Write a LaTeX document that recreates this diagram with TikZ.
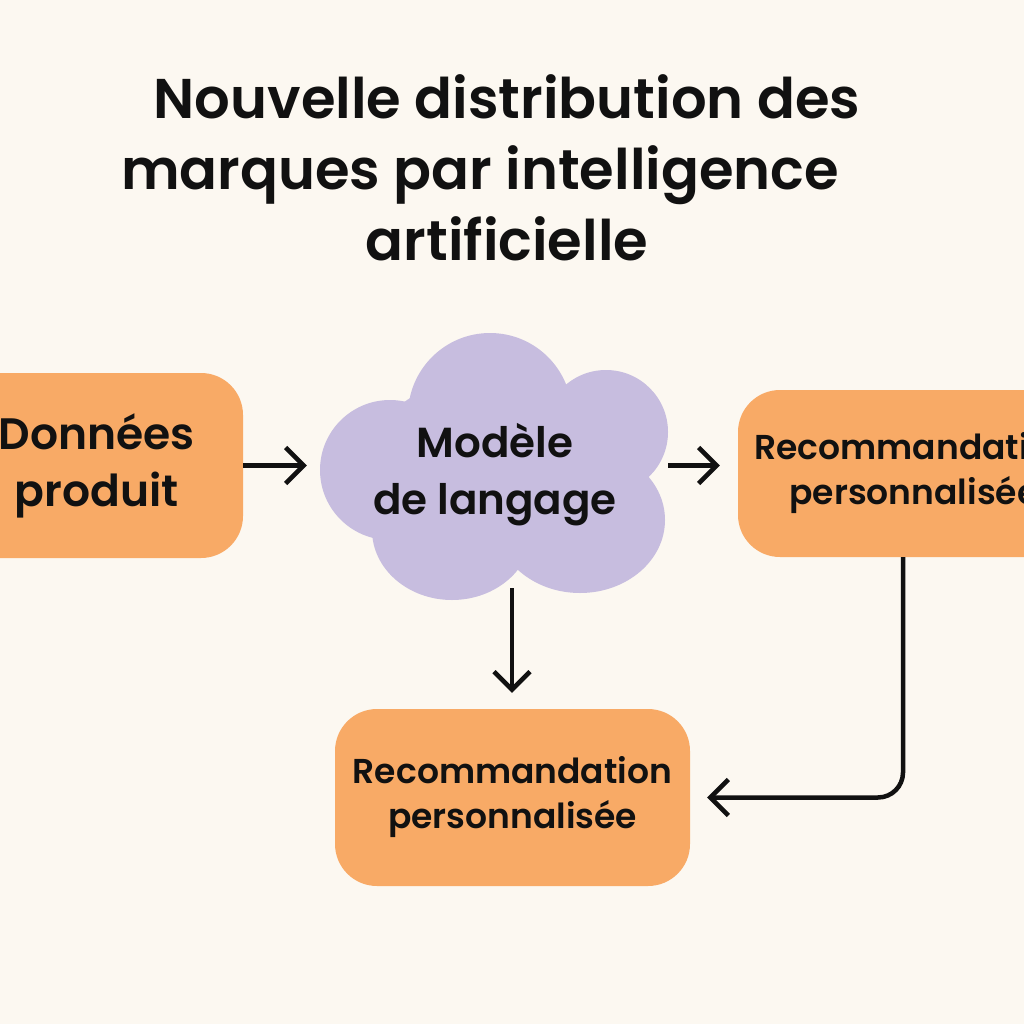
\documentclass[tikz,border=0pt]{standalone}
\usepackage{fontspec}
\setmainfont{Poppins SemiBold}
\usetikzlibrary{arrows.meta}
\definecolor{bgcream}{HTML}{FCF8F1}
\definecolor{boxorange}{HTML}{F8AA66}
\definecolor{cloudlilac}{HTML}{C7BDDF}
\definecolor{inkblack}{HTML}{111111}

\begin{document}
\begin{tikzpicture}[x=1pt,y=-1pt]
            \tikzset{block/.style = {shape=rectangle, rounded corners=42pt, fill=boxorange, text=inkblack, align=center, inner sep=0pt}}
            \tikzset{flow/.style = {draw=inkblack, line width=4.5pt, -{Straight Barb[length=18pt,width=36pt]}, shorten >=15pt}}
            \fill[bgcream] (0,0) rectangle (1024,1024);
            \useasboundingbox (0,0) rectangle (1024,1024);
            % title
            \node[text=inkblack, align=center, font=\fontsize{56}{71}\selectfont] (title) at (507,168)
                {Nouvelle distribution des\\\mbox{marques par intelligence\hspace{54pt}}\\artificielle};
            % cloud
            \fill[cloudlilac] (490,415) circle (82);
            \fill[cloudlilac] (606,432) circle (62);
            \fill[cloudlilac] (390,470) circle (70);
            \fill[cloudlilac] (452,530) ellipse (80 and 70);
            \fill[cloudlilac] (580,520) ellipse (85 and 73);
            \fill[cloudlilac] (495,470) ellipse (130 and 95);
            % vertices
            \node[block, minimum width=293pt, minimum height=185pt, font=\fontsize{44}{57}\selectfont] (data) at (96.5,465.5) {Données\\produit};
            \node[shape=rectangle, minimum width=346pt, minimum height=264pt, inner sep=0pt, text=inkblack, align=center, font=\fontsize{42}{57}\selectfont] (model) at (495,475) {Modèle\\de langage};
            \node[block, minimum width=352pt, minimum height=167pt, font=\fontsize{34.5}{45}\selectfont] (reco) at (914,473.5) {Recommandation\\personnalisée};
            \node[block, minimum width=355pt, minimum height=177pt, font=\fontsize{34.5}{45}\selectfont] (final) at (512.5,797.5) {Recommandation\\personnalisée};
            \coordinate (modelfoot) at (512,588);
            \coordinate (recofoot) at (903,557);
            % edges
            \draw[flow] (data.east) -- (model.west |- data.east);
            \draw[flow, shorten >=18pt] (model.east |- data.east) -- (reco.west |- data.east);
            \draw[flow, shorten >=16pt] (modelfoot) -- (modelfoot |- final.north);
            \draw[flow, rounded corners=25pt, shorten >=17pt] (recofoot) |- (final.east);
\end{tikzpicture}
\end{document}
